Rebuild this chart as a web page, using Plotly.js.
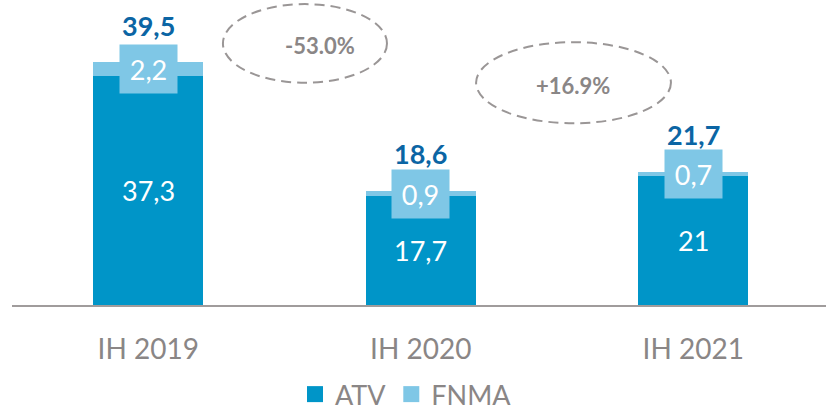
<!DOCTYPE html>
<html><head><meta charset="utf-8">
<script src="https://cdn.plot.ly/plotly-3.0.1.min.js"></script>
<style>html,body{margin:0;padding:0;background:#fff}#c{width:826px;height:419px}</style>
</head><body><div id="c"></div>
<script>
const categories = ["IH 2019", "IH 2020", "IH 2021"];
const atv = [37.3, 17.7, 21];
const fnma = [2.2, 0.9, 0.7];
const totals = [39.5, 18.6, 21.7];
const changeLabels = ["-53.0%", "+16.9%"];

const fmt = v => String(v).replace('.', ',');
const C_ATV = '#0095C8', C_FNMA = '#7FC7E6', C_TOT = '#0B65A4', C_GRAY = '#8A8686';
const FONT = 'Lato, "Open Sans", sans-serif';

const traces = [
  {type:'bar', x:categories, y:atv, name:'ATV', marker:{color:C_ATV}, showlegend:false, hoverinfo:'none'},
  {type:'bar', x:categories, y:fnma, name:'FNMA', marker:{color:C_FNMA}, showlegend:false, hoverinfo:'none'},
  {type:'scatter', mode:'markers', x:[null], y:[null], name:'ATV', marker:{symbol:'square', size:18, color:C_ATV}},
  {type:'scatter', mode:'markers', x:[null], y:[null], name:'FNMA', marker:{symbol:'square', size:18, color:C_FNMA}}
];

const annotations = [];
categories.forEach((c, i) => {
  annotations.push({x:c, y:atv[i]/2, text:fmt(atv[i]), showarrow:false,
    font:{family:FONT, size:27, color:'#fff'}});
  annotations.push({x:c, y:atv[i]+fnma[i]/2, text:fmt(fnma[i]), showarrow:false,
    font:{family:FONT, size:27, color:'#fff'}, bgcolor:C_FNMA, width:57, height:48, borderpad:0});
  annotations.push({x:c, y:totals[i], text:'<b>'+fmt(totals[i])+'</b>', showarrow:false, yshift:37,
    font:{family:FONT, size:27, color:C_TOT}});
});
annotations.push({x:0.63, y:42.3, text:'<b>'+changeLabels[0]+'</b>', showarrow:false,
  font:{family:FONT, size:22, color:C_GRAY}});
annotations.push({x:1.559, y:35.8, text:'<b>'+changeLabels[1]+'</b>', showarrow:false,
  font:{family:FONT, size:22, color:C_GRAY}});

const shapes = [
  {type:'circle', xref:'x', yref:'y', x0:0.274, x1:0.876, y0:36.2, y1:49.0,
   line:{color:'#9A9696', width:2, dash:'10px,6px'}},
  {type:'circle', xref:'x', yref:'y', x0:1.203, x1:1.918, y0:29.6, y1:42.8,
   line:{color:'#9A9696', width:2, dash:'10px,6px'}}
];

const layout = {
  width:826, height:419, barmode:'stack', bargap:0.596,
  margin:{l:12, r:0, t:0, b:114, autoexpand:false},
  paper_bgcolor:'#fff', plot_bgcolor:'#fff',
  font:{family:FONT, color:C_GRAY},
  xaxis:{type:'category', range:[-0.5, 2.487], showline:true, linecolor:'#A09C9C', linewidth:2,
    ticks:'', showgrid:false, zeroline:false, ticklabelstandoff:18,
    tickfont:{family:FONT, size:28, color:C_GRAY}},
  yaxis:{range:[0, 49.67], visible:false, showgrid:false, zeroline:false},
  showlegend:true,
  legend:{orientation:'h', traceorder:'normal', x:0.484, xanchor:'center', y:-0.374, yanchor:'bottom',
    font:{family:FONT, size:27, color:C_GRAY}, itemwidth:30, tracegroupgap:0},
  annotations, shapes
};
Plotly.newPlot('c', traces, layout, {staticPlot:true});
</script></body></html>
